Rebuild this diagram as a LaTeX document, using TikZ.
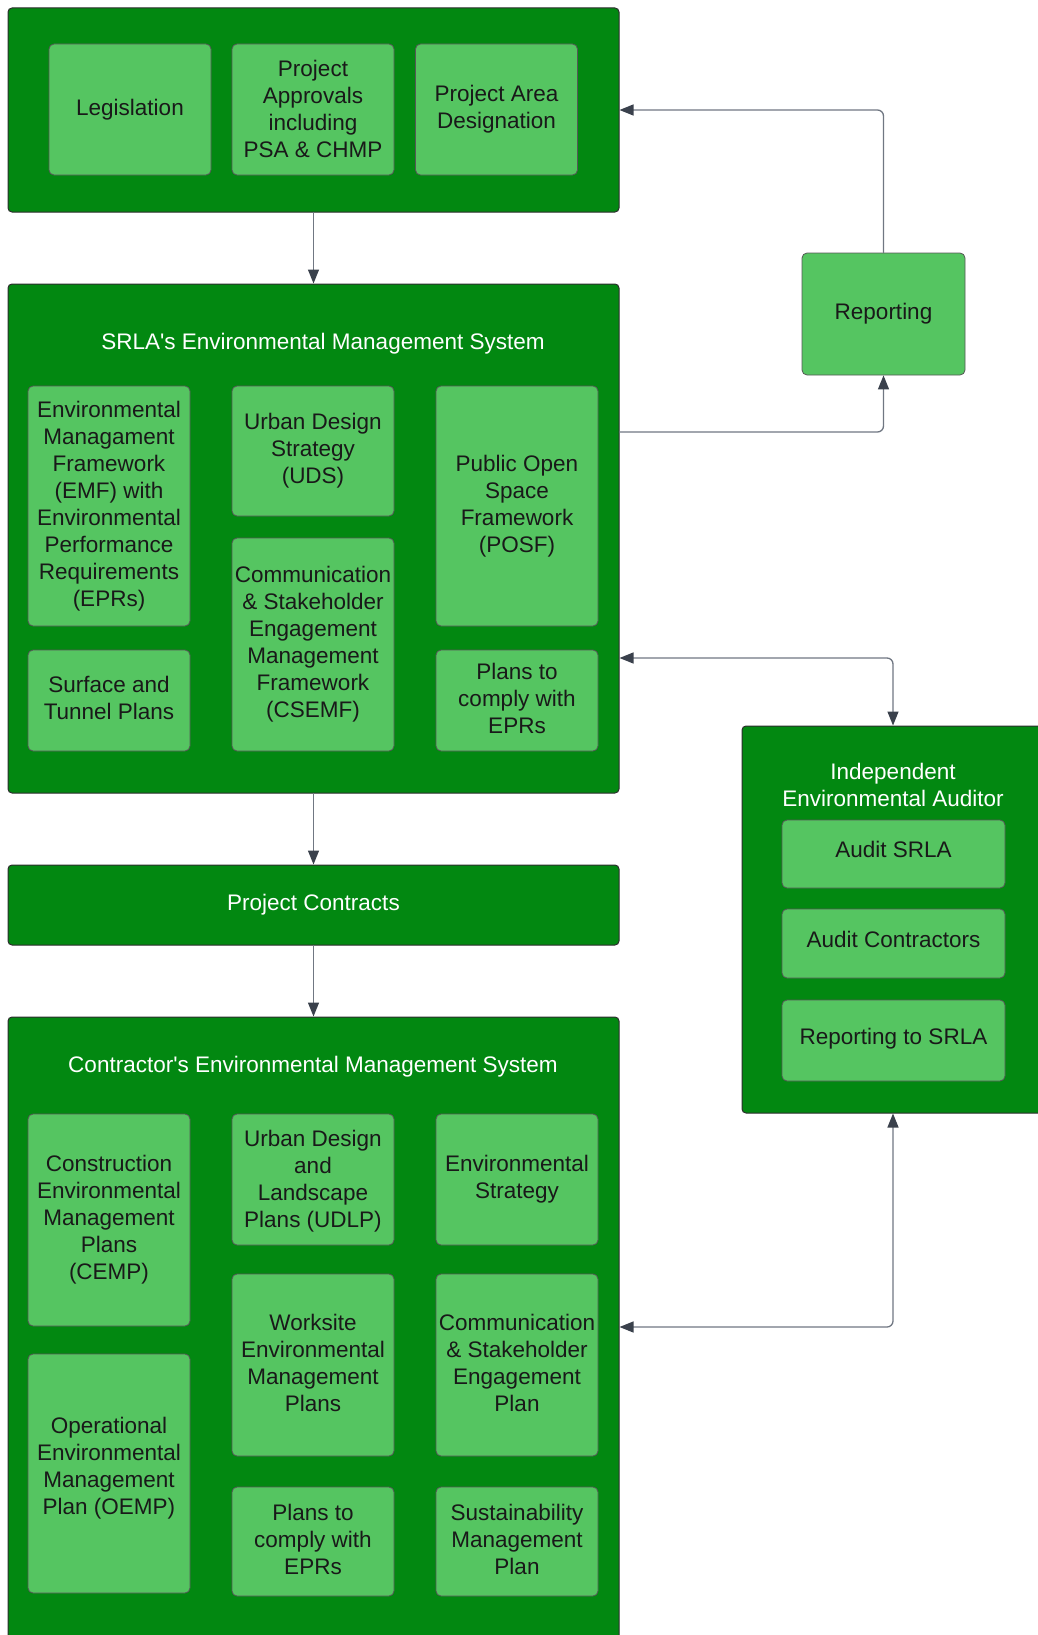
\documentclass[tikz,border=0pt]{standalone}
\usepackage{fontspec}
\setmainfont{Liberation Sans}[Ligatures=TeXOff]
\usetikzlibrary{arrows.meta}
\definecolor{darkgrn}{RGB}{2,136,17}
\definecolor{lightgrn}{RGB}{85,197,97}
\definecolor{linegray}{RGB}{112,119,130}
\definecolor{tipgray}{RGB}{58,65,76}
\definecolor{edgegray}{RGB}{45,45,45}
\begin{document}
\begin{tikzpicture}[x=1pt, y=-1pt, >={Triangle[length=14pt,width=11pt,color=tipgray]},
	font=\fontsize{22.5}{27}\selectfont, line join=round, line cap=round,
	outbox/.style={draw=edgegray, line width=1pt, fill=darkgrn, rounded corners=4pt, inner sep=0pt},
	inbox/.style={draw=edgegray!80, line width=0.8pt, fill=lightgrn, rounded corners=5pt, minimum width=162pt, align=center, text=black!90, inner sep=0pt, text depth=5pt},
	audbox/.style={inbox, minimum width=223pt, text depth=9pt},
	ttl/.style={text=white, align=center, inner sep=0pt},
	link/.style={draw=linegray, line width=1.3pt, rounded corners=6pt}]
	\useasboundingbox (0,0) rectangle (1038,1635);
	% containers
	\node[outbox, minimum width=611pt, minimum height=204pt] (top) at (313.5,110) {};
	\node[outbox, minimum width=611pt, minimum height=509pt] (srla) at (313.5,538.5) {};
	\node[outbox, minimum width=611pt, minimum height=80pt, ttl] (contracts) at (313.5,905) {Project Contracts};
	\node[outbox, minimum width=611pt, minimum height=640pt] (contractor) at (313.5,1337) {};
	\node[outbox, minimum width=302pt, minimum height=387pt] (auditor) at (893,919.5) {};
	\node[inbox, minimum width=163pt, minimum height=122pt] (report) at (883.5,314) {Reporting};
	% top row
	\node[inbox, minimum height=131pt] (legis) at (130,109.5) {Legislation};
	\node[inbox, minimum height=131pt, text depth=1pt] (approv) at (313,109.5) {Project\\Approvals\\including\\PSA \& CHMP};
	\node[inbox, minimum height=131pt] (area) at (496.5,109.5) {Project Area\\Designation};
	% SRLA system
	\node[ttl] (srlattl) at (323,344) {SRLA's Environmental Management System};
	\node[inbox, minimum height=240pt] (emf) at (109,506) {Environmental\\Managament\\Framework\\(EMF) with\\Environmental\\Performance\\Requirements\\(EPRs)};
	\node[inbox, minimum height=101pt] (surf) at (109,700.5) {Surface and\\Tunnel Plans};
	\node[inbox, minimum height=130pt] (uds) at (313,451) {Urban Design\\Strategy\\(UDS)};
	\node[inbox, minimum height=213pt] (csemf) at (313,644.5) {Communication\\\& Stakeholder\\Engagement\\Management\\Framework\\(CSEMF)};
	\node[inbox, minimum height=240pt] (posf) at (517,506) {Public Open\\Space\\Framework\\(POSF)};
	\node[inbox, minimum height=101pt] (eprsA) at (517,700.5) {Plans to\\comply with\\EPRs};
	% contractor system
	\node[ttl] (conttl) at (313,1067) {Contractor's Environmental Management System};
	\node[inbox, minimum height=212pt] (cemp) at (109,1220) {Construction\\Environmental\\Management\\Plans\\(CEMP)};
	\node[inbox, minimum height=239pt, text depth=15pt] (oemp) at (109,1473.5) {Operational\\Environmental\\Management\\Plan (OEMP)};
	\node[inbox, minimum height=131pt, text depth=2pt] (udlp) at (313,1179.5) {Urban Design\\and\\Landscape\\Plans (UDLP)};
	\node[inbox, minimum height=182pt] (wemp) at (313,1365) {Worksite\\Environmental\\Management\\Plans};
	\node[inbox, minimum height=109pt] (eprsB) at (313,1541.5) {Plans to\\comply with\\EPRs};
	\node[inbox, minimum height=131pt] (strat) at (517,1179.5) {Environmental\\Strategy};
	\node[inbox, minimum height=182pt] (csep) at (517,1365) {Communication\\\& Stakeholder\\Engagement\\Plan};
	\node[inbox, minimum height=109pt] (smp) at (517,1541.5) {Sustainability\\Management\\Plan};
	% auditor
	\node[ttl] (audttl) at (893,784.5) {Independent\\Environmental Auditor};
	\node[audbox, minimum height=68pt] (audsrla) at (893.5,854) {Audit SRLA};
	\node[audbox, minimum height=69pt] (audcon) at (893.5,943.5) {Audit Contractors};
	\node[audbox, minimum height=81pt] (repsrla) at (893.5,1040.5) {Reporting to SRLA};
	% connectors
	\draw[link, ->] (top.south) -- (srla.north);
	\draw[link, ->] (srla.south) -- (contracts.north);
	\draw[link, ->] (contracts.south) -- (contractor.north);
	\draw[link, ->] ([yshift=106.5pt]srla.east) -| (report.south);
	\draw[link, ->] (report.north) |- (top.east);
	\draw[link, <->] ([yshift=-119.5pt]srla.east) -| (auditor.north);
	\draw[link, <->] ([yshift=10pt]contractor.east) -| (auditor.south);
\end{tikzpicture}
\end{document}
